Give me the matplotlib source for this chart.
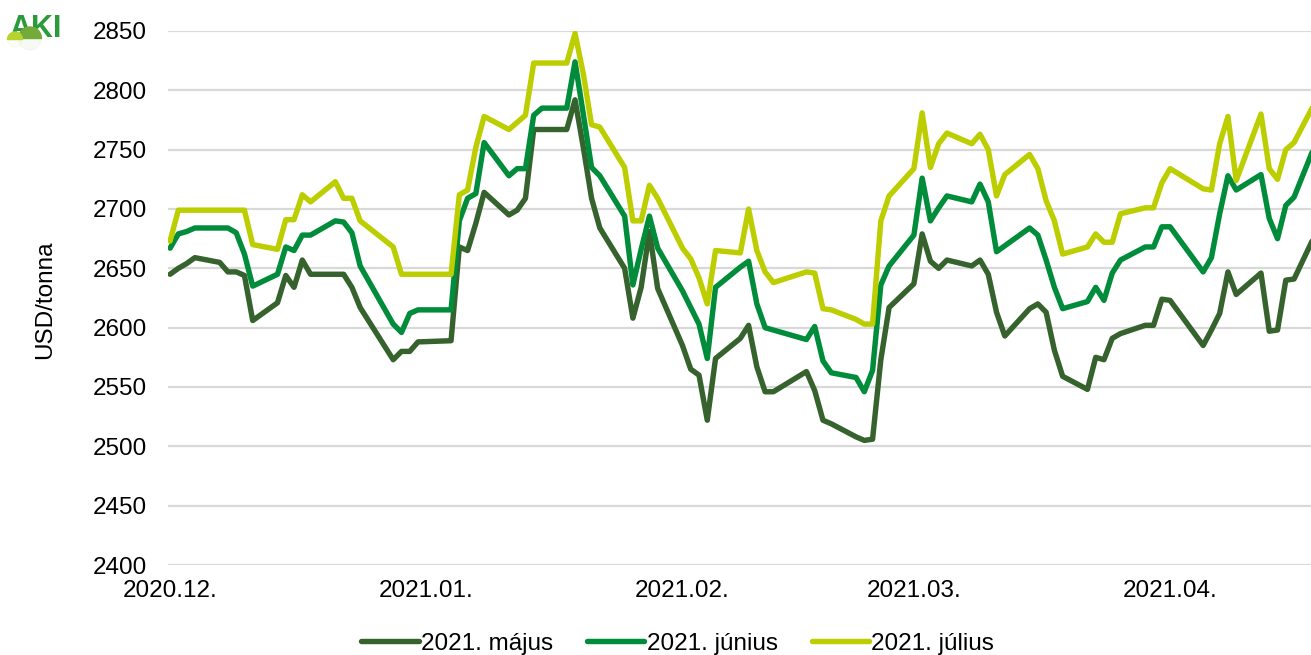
import matplotlib
matplotlib.use('Agg')
import matplotlib.pyplot as plt
from matplotlib.patches import Wedge
import pandas as pd

plt.rcParams['font.family'] = ['Liberation Sans', 'DejaVu Sans']

# Trading days, Dec 2020 - Apr 2021 (exchange holidays dropped).
holidays = ['2020-12-25', '2021-01-01', '2021-02-15', '2021-04-02']
days = pd.bdate_range('2020-12-01', '2021-04-19')
days = days[~days.isin(pd.to_datetime(holidays))]

series_names = ['2021. május', '2021. június', '2021. július']

maj = [2645, 2650, 2654, 2659, 2655, 2647, 2647, 2644, 2606, 2621, 2644, 2634, 2657, 2645, 2645, 2645, 2634, 2617, 2573, 2580, 2580, 2588,
       2589, 2668, 2665, 2688, 2714, 2695, 2699, 2709, 2767, 2767, 2767, 2792, 2752, 2709, 2684, 2650, 2608, 2634, 2681, 2633,
       2585, 2565, 2560, 2522, 2574, 2591, 2602, 2567, 2546, 2546, 2563, 2547, 2522, 2519, 2508, 2505, 2506, 2573, 2617,
       2637, 2679, 2656, 2650, 2657, 2652, 2657, 2645, 2613, 2593, 2616, 2620, 2613, 2581, 2559, 2548, 2575, 2573, 2591, 2595, 2602, 2602, 2624,
       2623, 2585, 2598, 2612, 2647, 2628, 2646, 2597, 2598, 2640, 2641, 2685]

jun = [2667, 2679, 2681, 2684, 2684, 2684, 2680, 2662, 2635, 2645, 2668, 2665, 2678, 2678, 2690, 2689, 2680, 2652, 2603, 2596, 2612, 2615,
       2615, 2690, 2709, 2713, 2756, 2728, 2734, 2734, 2779, 2785, 2785, 2824, 2780, 2735, 2728, 2694, 2636, 2666, 2694, 2667,
       2631, 2617, 2603, 2574, 2634, 2651, 2656, 2620, 2600, 2598, 2590, 2601, 2572, 2562, 2558, 2546, 2564, 2636, 2652,
       2678, 2726, 2690, 2701, 2711, 2706, 2721, 2706, 2664, 2669, 2684, 2678, 2657, 2634, 2616, 2622, 2634, 2623, 2646, 2657, 2668, 2668, 2685,
       2685, 2647, 2659, 2696, 2728, 2716, 2729, 2692, 2675, 2703, 2710, 2762]

jul = [2673, 2699, 2699, 2699, 2699, 2699, 2699, 2699, 2670, 2666, 2691, 2691, 2712, 2706, 2723, 2709, 2709, 2690, 2668, 2645, 2645, 2645,
       2645, 2712, 2716, 2752, 2778, 2767, 2773, 2779, 2823, 2823, 2823, 2848, 2814, 2771, 2769, 2735, 2690, 2690, 2720, 2709,
       2667, 2658, 2642, 2620, 2665, 2663, 2700, 2665, 2647, 2638, 2647, 2646, 2616, 2615, 2607, 2603, 2603, 2690, 2711,
       2734, 2781, 2735, 2755, 2764, 2755, 2763, 2750, 2711, 2729, 2746, 2734, 2707, 2690, 2662, 2668, 2679, 2672, 2672, 2696, 2701, 2701, 2722,
       2734, 2717, 2716, 2755, 2778, 2724, 2780, 2734, 2725, 2750, 2756, 2796]

colors = ['#36622d', '#008c3a', '#bccd00']

month_ticks = ['2020-12-01', '2021-01-01', '2021-02-01', '2021-03-01', '2021-04-01']
month_labels = ['2020.12.', '2021.01.', '2021.02.', '2021.03.', '2021.04.']
y_ticks = list(range(2400, 2851, 50))

fs = 17.5
fig = plt.figure(figsize=(13.11, 6.55), dpi=100)
ax = fig.add_axes([168 / 1311, 1 - 565 / 655, 1 - 168 / 1311, (565 - 31) / 655])

for vals, name, c in zip([maj, jun, jul], series_names, colors):
    ax.plot(days, vals, color=c, lw=3.9, label=name, solid_joinstyle='round',
            solid_capstyle='round', zorder=3)

start = pd.Timestamp('2020-12-01')
ax.set_xlim(start - pd.Timedelta(hours=6), start + pd.Timedelta(days=138.05))
ax.set_ylim(2400, 2850)
ax.set_yticks(y_ticks)
ax.set_xticks(pd.to_datetime(month_ticks))
ax.set_xticklabels(month_labels)
ax.grid(axis='y', color='#d9d9d9', lw=1.6, zorder=0)
ax.grid(axis='x', visible=False)
for s in ax.spines.values():
    s.set_visible(False)
ax.tick_params(axis='both', length=0, labelsize=fs)
ax.tick_params(axis='y', pad=15)
ax.tick_params(axis='x', pad=11)

fig.text(45 / 1311, 1 - 300 / 655, 'USD/tonna', rotation=90, ha='center', va='center', fontsize=fs)

fig.legend(loc='center', bbox_to_anchor=(0.517, 0.017), ncol=3, frameon=False,
           fontsize=fs, handlelength=2.35, handletextpad=0.1, columnspacing=1.4)

# Small AKI logo in the top left corner (1 unit = 1 pixel)
lax = fig.add_axes([0, 1 - 60 / 655, 70 / 1311, 60 / 655])
lax.set_xlim(0, 70)
lax.set_ylim(0, 60)
lax.axis('off')
lax.text(35.5, 31, 'AKI', ha='center', va='center', fontsize=22, fontweight='bold',
         color='#2a9a3a', zorder=1)
lax.add_patch(Wedge((30, 21.5), 11.5, 0, 180, color='#74aa3a', zorder=2))
lax.add_patch(Wedge((15, 20.5), 7.5, 0, 180, color='#b6d330', zorder=3))
lax.add_patch(Wedge((30, 21.5), 11.5, 180, 360, color='#74aa3a', alpha=0.05, zorder=2))
lax.add_patch(Wedge((15, 20.5), 7.5, 180, 360, color='#b6d330', alpha=0.05, zorder=3))

fig.savefig('out.png', dpi=100)
